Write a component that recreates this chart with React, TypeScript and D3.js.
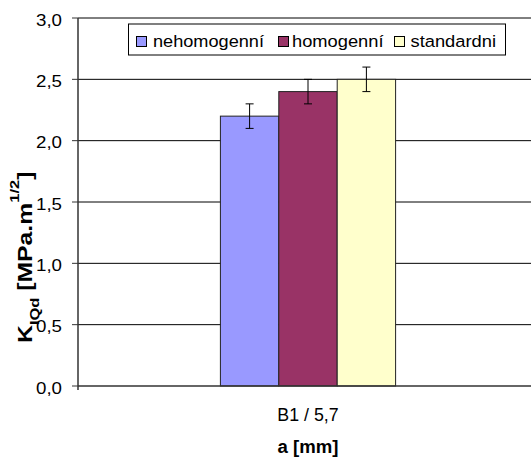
import React from "react";
import * as d3 from "d3";

const categories = ["B1 / 5,7"];
const seriesNames = ["nehomogenní", "homogenní", "standardni"];
const seriesColors = ["#9999FF", "#993366", "#FFFFCC"];
const values = [2.2, 2.4, 2.5];
const errors = [0.1, 0.1, 0.1];
const yTicks = [0, 0.5, 1.0, 1.5, 2.0, 2.5, 3.0];

export default function App() {
  const W = 531, H = 457;
  const left = 78, right = 538, top = 18, bottom = 386;
  const y = d3.scaleLinear().domain([0, 3]).range([bottom, top]);
  const x = d3.scaleBand().domain(categories).range([left, right]).paddingInner(0).paddingOuter(0.31);
  const cx = (x(categories[0]) as number) + x.bandwidth() / 2;
  const barW = 58.4;
  const xs = d3.scaleBand<number>().domain([0, 1, 2]).range([cx - 1.5 * barW, cx + 1.5 * barW]);
  const fmt = (v: number) => v.toFixed(1).replace(".", ",");
  const legendItems = [
    { sx: 136, tx: 153, w: 111 },
    { sx: 278, tx: 292, w: 91.5 },
    { sx: 394, tx: 410.5, w: 85.5 },
  ];
  return (
    <svg width={W} height={H} style={{ position: "absolute", left: 0, top: 0, fontFamily: "Liberation Sans, Arial, sans-serif" }}>
      <rect width={W} height={H} fill="#fff" />
      {yTicks.map((t) => (
        <g key={t}>
          {t > 0 && <line x1={left} x2={right} y1={y(t)} y2={y(t)} stroke="#000" strokeWidth={1} />}
          <line x1={72} x2={left} y1={y(t)} y2={y(t)} stroke="#333" strokeWidth={1} />
          <text x={36} y={y(t) + 7.5} fontSize={16.3} fill="#000" textLength={26} lengthAdjust="spacingAndGlyphs">{fmt(t)}</text>
        </g>
      ))}
      {values.map((v, i) => {
        const bx = xs(i) as number;
        const bc = bx + xs.bandwidth() / 2;
        return (
          <g key={i}>
            <rect x={bx} y={y(v)} width={xs.bandwidth()} height={y(0) - y(v)} fill={seriesColors[i]} stroke="#222" strokeWidth={1} />
            <line x1={bc} x2={bc} y1={y(v + errors[i])} y2={y(v - errors[i])} stroke="#000" strokeWidth={1} />
            <line x1={bc - 4} x2={bc + 4} y1={y(v + errors[i])} y2={y(v + errors[i])} stroke="#000" strokeWidth={1} />
            <line x1={bc - 4} x2={bc + 4} y1={y(v - errors[i])} y2={y(v - errors[i])} stroke="#000" strokeWidth={1} />
          </g>
        );
      })}
      <line x1={left} x2={right} y1={bottom} y2={bottom} stroke="#333" strokeWidth={1.5} />
      <line x1={left} x2={left} y1={top} y2={bottom + 4} stroke="#333" strokeWidth={1.5} />
      <text x={cx} y={420.5} textAnchor="middle" fontSize={17.8} fill="#000">{categories[0]}</text>
      <text x={cx} y={452.5} textAnchor="middle" fontSize={18} fontWeight="bold" fill="#000" textLength={61} lengthAdjust="spacingAndGlyphs">a [mm]</text>
      <rect x={128.5} y={24} width={377} height={31} fill="#fff" stroke="#000" strokeWidth={1} />
      {seriesNames.map((n, i) => (
        <g key={n}>
          <rect x={legendItems[i].sx + 0.5} y={36.5} width={10} height={10} fill={seriesColors[i]} stroke="#000" strokeWidth={1} />
          <text x={legendItems[i].tx} y={47} fontSize={16.8} fill="#000" textLength={legendItems[i].w} lengthAdjust="spacingAndGlyphs">{n}</text>
        </g>
      ))}
      <text transform="translate(32,343) rotate(-90) scale(1.27,1)" fontSize={19.5} fontWeight="bold" fill="#000">
        K<tspan fontSize={13} dy={7}>IQd</tspan><tspan dy={-7}> [MPa.m</tspan><tspan fontSize={13} dy={-13}>1/2</tspan><tspan dy={13}>]</tspan>
      </text>
    </svg>
  );
}
